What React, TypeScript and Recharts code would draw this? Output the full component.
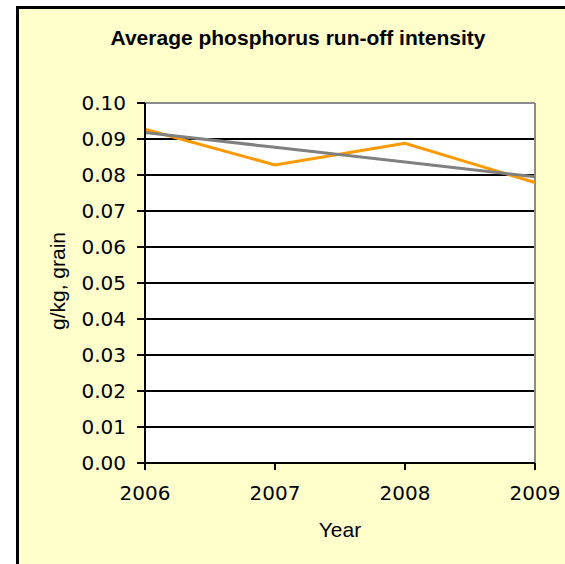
import React from 'react';
import { LineChart, Line, XAxis, YAxis, CartesianGrid, ReferenceLine } from 'recharts';

const years = [2006, 2007, 2008, 2009];
const intensity = [0.0927, 0.0828, 0.0888, 0.0779];
const trend = [0.0918, 0.0877, 0.0836, 0.0795];
const yTicks = [0, 0.01, 0.02, 0.03, 0.04, 0.05, 0.06, 0.07, 0.08, 0.09, 0.1];

const data = years.map((y, i) => ({ year: y, value: intensity[i], trend: trend[i] }));

const tickFont = { fontFamily: 'DejaVu Sans', fontSize: 20, fill: '#000' };

export default function App() {
  return (
    <div style={{ position: 'absolute', left: 0, top: 0, width: 565, height: 564, overflow: 'hidden', background: '#fff' }}>
      <div
        style={{
          position: 'absolute',
          left: 16,
          top: 6,
          width: 600,
          height: 600,
          background: '#FFFFCC',
          borderLeft: '3px solid #000',
          borderTop: '3px solid #000',
        }}
      />
      <div
        style={{
          position: 'absolute',
          left: 0,
          top: 27,
          width: 596,
          textAlign: 'center',
          fontFamily: 'Liberation Sans',
          fontWeight: 'bold',
          fontSize: 21,
          lineHeight: '21px',
          whiteSpace: 'nowrap',
        }}
      >
        Average phosphorus run-off intensity
      </div>
      <div style={{ position: 'absolute', left: 0, top: 0 }}>
        <LineChart
          width={565}
          height={564}
          data={data}
          margin={{ top: 103, right: 30, bottom: 61, left: 65 }}
        >
          <CartesianGrid vertical={false} stroke="#000" strokeWidth={2} fill="#fff" strokeOpacity={1} />
          <XAxis
            dataKey="year"
            type="number"
            domain={[2006, 2009]}
            ticks={years}
            height={40}
            tick={tickFont}
            tickSize={7}
            tickMargin={16}
            axisLine={{ stroke: '#000', strokeWidth: 2 }}
            tickLine={{ stroke: '#000', strokeWidth: 2 }}
          />
          <YAxis
            type="number"
            domain={[0, 0.1]}
            ticks={yTicks}
            width={80}
            tick={tickFont}
            tickSize={8}
            tickMargin={11}
            tickFormatter={(v: number) => v.toFixed(2)}
            axisLine={{ stroke: '#000', strokeWidth: 2 }}
            tickLine={{ stroke: '#000', strokeWidth: 2 }}
          />
          <ReferenceLine y={0.1} stroke="#8c8c8c" strokeWidth={2} />
          <ReferenceLine x={2009} stroke="#8c8c8c" strokeWidth={2} />
          <Line
            dataKey="value"
            stroke="#FF9900"
            strokeWidth={3}
            dot={false}
            isAnimationActive={false}
          />
          <Line
            dataKey="trend"
            stroke="#808080"
            strokeWidth={3}
            dot={false}
            isAnimationActive={false}
          />
        </LineChart>
      </div>
      <div
        style={{
          position: 'absolute',
          left: 240,
          top: 519,
          width: 200,
          textAlign: 'center',
          fontFamily: 'Liberation Sans',
          fontSize: 21,
          lineHeight: '21px',
        }}
      >
        Year
      </div>
      <div
        style={{
          position: 'absolute',
          left: 58 - 100,
          top: 281 - 12,
          width: 200,
          height: 24,
          lineHeight: '24px',
          textAlign: 'center',
          fontFamily: 'Liberation Sans',
          fontSize: 21,
          transform: 'rotate(-90deg)',
          whiteSpace: 'nowrap',
        }}
      >
        g/kg, grain
      </div>
    </div>
  );
}
